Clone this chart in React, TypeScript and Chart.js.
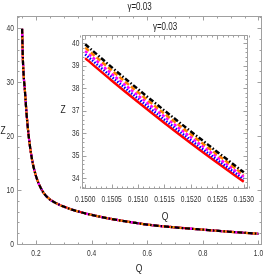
import React, { useEffect, useRef } from "react";
import { Chart, registerables } from "chart.js";
Chart.register(...registerables);

// ---------- data ----------
const titleText = "γ=0.03";
const xLabel = "Q";
const yLabel = "Z";

const mainQ = [0.15, 0.1515, 0.153, 0.156, 0.16, 0.166, 0.174, 0.186, 0.2, 0.22, 0.24, 0.275, 0.32, 0.365, 0.4, 0.45, 0.5, 0.55, 0.6, 0.7, 0.8, 0.9, 1.0];
const mainZ = [39.9, 36.8, 34.0, 31.0, 28.5, 24.2, 19.9, 15.6, 12.6, 10.1, 8.7, 7.5, 6.55, 5.85, 5.4, 4.85, 4.4, 3.98, 3.6, 3.08, 2.66, 2.27, 1.9];

const insetQ = [0.15, 0.1505, 0.151, 0.1515, 0.152, 0.1525, 0.153];
const zBlack = [39.95, 38.93, 37.95, 37.0, 36.07, 35.16, 34.25];
const zOrange = [39.8, 38.79, 37.81, 36.86, 35.94, 35.04, 34.15];
const zMagenta = [39.65, 38.64, 37.67, 36.73, 35.81, 34.92, 34.05];
const zBlue = [39.5, 38.5, 37.53, 36.59, 35.68, 34.8, 33.95];
const zRed = [39.33, 38.34, 37.38, 36.45, 35.55, 34.68, 33.83];

const mainXTicks = [0.2, 0.4, 0.6, 0.8, 1.0];
const mainYTicks = [0, 10, 20, 30, 40];
const insetXTicks = [0.15, 0.1505, 0.151, 0.1515, 0.152, 0.1525, 0.153];
const insetYTicks = [34, 35, 36, 37, 38, 39, 40];

const seriesNames = ["black", "orange", "magenta", "blue", "red"];
const seriesColors = ["#000000", "#FF8000", "#FF00FF", "#0000FF", "#FF0000"];
const seriesDashes = [[5, 2, 1.5, 2], [5, 2.5], [3, 2], [1.5, 1.5], []];
const insetSeries = [zBlack, zOrange, zMagenta, zBlue, zRed];

const FONT = "'Liberation Sans', Arial, sans-serif";

function minorTicks(from: number, to: number, step: number, majors: number[]) {
  const out: number[] = [];
  const n = Math.round((to - from) / step);
  for (let i = 0; i <= n; i++) {
    const v = from + i * step;
    if (!majors.some((m) => Math.abs(m - v) < step / 10)) out.push(v);
  }
  return out;
}

function squeezedText(ctx: CanvasRenderingContext2D, text: string, x: number, y: number, sx: number) {
  ctx.save();
  ctx.translate(x, y);
  ctx.scale(sx, 1);
  ctx.fillText(text, 0, 0);
  ctx.restore();
}

const framePlugin = {
  id: "frameTicks",
  afterDraw(chart: any, _args: any, opts: any) {
    const { ctx, chartArea: a, scales } = chart;
    ctx.save();
    ctx.strokeStyle = "#a0a0a0";
    ctx.lineWidth = 1;
    const L = Math.round(a.left) + 0.5, R = Math.round(a.right) - 0.5;
    const T = Math.round(a.top) + 0.5, B = Math.round(a.bottom) - 0.5;
    ctx.strokeRect(L, T, R - L, B - T);
    ctx.beginPath();
    const xt = (vals: number[], len: number) => {
      vals.forEach((v) => {
        const p = Math.round(scales.x.getPixelForValue(v)) + 0.5;
        ctx.moveTo(p, B); ctx.lineTo(p, B - len);
        ctx.moveTo(p, T); ctx.lineTo(p, T + len);
      });
    };
    const yt = (vals: number[], len: number) => {
      vals.forEach((v) => {
        const p = Math.round(scales.y.getPixelForValue(v)) + 0.5;
        ctx.moveTo(L, p); ctx.lineTo(L + len, p);
        ctx.moveTo(R, p); ctx.lineTo(R - len, p);
      });
    };
    xt(opts.xMajor, 4); xt(opts.xMinor, 2);
    yt(opts.yMajor, 4); yt(opts.yMinor, 2);
    ctx.stroke();

    // tick labels from the axes' own ticks
    ctx.fillStyle = "#333";
    ctx.font = `9.5px ${FONT}`;
    ctx.textBaseline = "middle";
    ctx.textAlign = "center";
    scales.x.ticks.forEach((t: any) => {
      const p = scales.x.getPixelForValue(t.value);
      squeezedText(ctx, opts.xFmt(t.value), p, a.bottom + opts.xPad, 0.7);
    });
    ctx.textAlign = "right";
    scales.y.ticks.forEach((t: any) => {
      const p = scales.y.getPixelForValue(t.value);
      squeezedText(ctx, opts.yFmt(t.value), a.left - opts.yPad, p, 0.7);
    });

    ctx.fillStyle = "#222";
    ctx.textAlign = "center";
    (opts.texts || []).forEach((t: any) => {
      ctx.font = `${t.size}px ${FONT}`;
      squeezedText(ctx, t.text, t.x, t.y, t.sx);
    });
    ctx.restore();
  },
};

function lineDatasets(qs: number[], zsList: number[][], width: number) {
  return seriesNames.map((name, i) => ({
    label: name,
    data: qs.map((q, j) => ({ x: q, y: zsList[i][j] })),
    borderColor: seriesColors[i],
    borderDash: seriesDashes[i],
    borderWidth: width,
    pointRadius: 0,
    fill: false,
    cubicInterpolationMode: "monotone" as const,
  }));
}

function axis(min: number, max: number, ticks: number[], size: number, isX: boolean) {
  return {
    type: "linear" as const,
    min,
    max,
    grid: { display: false, drawTicks: false },
    border: { display: false },
    afterBuildTicks: (s: any) => { s.ticks = ticks.map((v) => ({ value: v })); },
    afterFit: (s: any) => { if (isX) s.height = size; else s.width = size; },
    ticks: { display: false, autoSkip: false, maxRotation: 0 },
  };
}

export default function App() {
  const mainRef = useRef<HTMLCanvasElement>(null);
  const insetRef = useRef<HTMLCanvasElement>(null);

  useEffect(() => {
    const mainChart = new Chart(mainRef.current as HTMLCanvasElement, {
      type: "line",
      data: { datasets: lineDatasets(mainQ, seriesNames.map(() => mainZ), 2.2) as any },
      options: {
        animation: false,
        responsive: false,
        devicePixelRatio: 1,
        layout: { padding: { top: 16, right: 4, left: 0, bottom: 0 } },
        plugins: {
          legend: { display: false },
          tooltip: { enabled: false },
          title: { display: false },
          frameTicks: {
            xMajor: mainXTicks,
            xMinor: minorTicks(0.15, 1.0, 0.05, mainXTicks),
            yMajor: mainYTicks,
            yMinor: minorTicks(0, 42, 2, mainYTicks),
            xFmt: (v: number) => v.toFixed(1),
            yFmt: (v: number) => String(v),
            xPad: 8,
            yPad: 3,
            texts: [
              { text: titleText, x: 139.5, y: 7, size: 10, sx: 0.8 },
              { text: xLabel, x: 139, y: 269, size: 10, sx: 0.85 },
              { text: yLabel, x: 3, y: 131, size: 10, sx: 0.85 },
            ],
          },
        } as any,
        scales: {
          x: axis(0.1317, 1.0126, mainXTicks, 35, true),
          y: axis(-0.18, 42.27, mainYTicks, 17, false),
        } as any,
      },
      plugins: [framePlugin],
    });

    const insetChart = new Chart(insetRef.current as HTMLCanvasElement, {
      type: "line",
      data: { datasets: lineDatasets(insetQ, insetSeries, 2.5) as any },
      options: {
        animation: false,
        responsive: false,
        devicePixelRatio: 1,
        layout: { padding: { top: 15, right: 7, left: 0, bottom: 0 } },
        plugins: {
          legend: { display: false },
          tooltip: { enabled: false },
          title: { display: false },
          frameTicks: {
            xMajor: insetXTicks,
            xMinor: minorTicks(0.1499, 0.1531, 0.0001, insetXTicks),
            yMajor: insetYTicks,
            yMinor: minorTicks(33.6, 40.2, 0.2, insetYTicks),
            xFmt: (v: number) => v.toFixed(4),
            yFmt: (v: number) => String(v),
            xPad: 10,
            yPad: 2.5,
            texts: [
              { text: titleText, x: 110, y: 7, size: 10, sx: 0.8 },
              { text: xLabel, x: 110, y: 197, size: 10, sx: 0.85 },
              { text: yLabel, x: 8, y: 90, size: 10, sx: 0.85 },
            ],
          },
        } as any,
        scales: {
          x: axis(0.14994, 0.15308, insetXTicks, 36, true),
          y: axis(33.51, 40.36, insetYTicks, 27, false),
        } as any,
      },
      plugins: [framePlugin],
    });

    return () => {
      mainChart.destroy();
      insetChart.destroy();
    };
  }, []);

  return (
    <div style={{ position: "fixed", left: 0, top: 0, width: 266, height: 280, background: "#fff" }}>
      <canvas ref={mainRef} width={266} height={280} style={{ position: "absolute", left: 0, top: 0, width: 266, height: 280 }} />
      <canvas ref={insetRef} width={200} height={205} style={{ position: "absolute", left: 55, top: 20, width: 200, height: 205 }} />
    </div>
  );
}
